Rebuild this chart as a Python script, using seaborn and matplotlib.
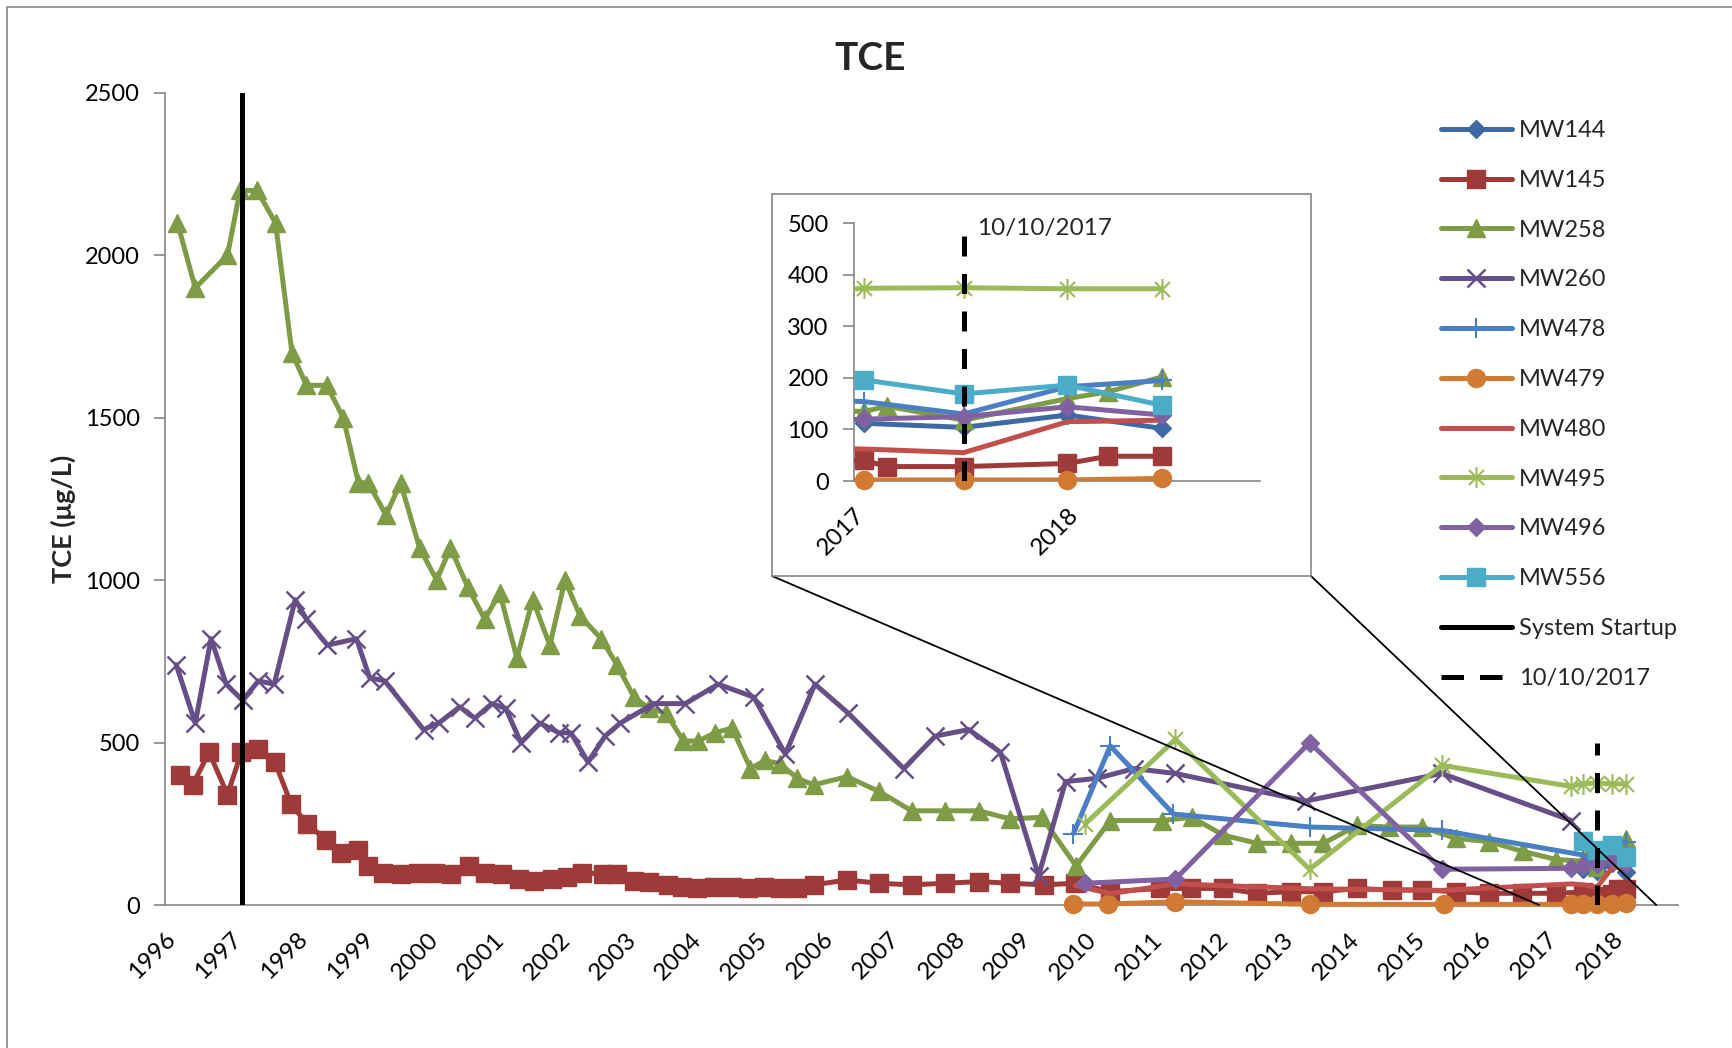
import matplotlib
matplotlib.use('Agg')
import matplotlib.pyplot as plt
import seaborn as sns
from matplotlib.path import Path
from matplotlib.patches import Rectangle, ConnectionPatch
from matplotlib.lines import Line2D

# ---- data (x in decimal years, TCE in ug/L) ----
MW144_YEARS = [2017.55, 2017.77, 2018.00, 2018.21]
MW144_TCE = [112, 104, 128, 102]

MW145_YEARS = [1996.23, 1996.42, 1996.67, 1996.95, 1997.16, 1997.41, 1997.67, 1997.92, 1998.16, 1998.45,
               1998.67, 1998.94, 1999.08, 1999.32, 1999.58, 1999.84, 2000.10, 2000.35, 2000.62, 2000.86,
               2001.12, 2001.38, 2001.61, 2001.88, 2002.11, 2002.34, 2002.66, 2002.87, 2003.13, 2003.36,
               2003.65, 2003.86, 2004.09, 2004.34, 2004.62, 2004.87, 2005.10, 2005.35, 2005.61, 2005.86,
               2006.37, 2006.85, 2007.35, 2007.86, 2008.37, 2008.85, 2009.36, 2009.84, 2010.37, 2011.13,
               2011.59, 2012.09, 2012.60, 2013.11, 2013.61, 2014.12, 2014.65, 2015.11, 2015.62, 2016.12,
               2016.63, 2017.15, 2017.55, 2017.60, 2017.77, 2018.00, 2018.09, 2018.21]
MW145_TCE = [400, 370, 470, 340, 470, 480, 440, 310, 250, 200,
             160, 170, 120, 100, 95, 100, 100, 95, 120, 100,
             95, 80, 75, 80, 85, 100, 95, 95, 75, 70,
             62, 56, 52, 56, 56, 52, 56, 52, 52, 62,
             77, 67, 62, 67, 72, 67, 62, 67, 41, 51,
             51, 51, 36, 41, 41, 51, 46, 46, 41, 36,
             36, 36, 40, 28, 28, 34, 48, 48]

MW258_YEARS = [1996.19, 1996.46, 1996.95, 1997.14, 1997.40, 1997.68, 1997.93, 1998.15, 1998.46, 1998.71,
               1998.94, 1999.09, 1999.36, 1999.58, 1999.87, 2000.13, 2000.34, 2000.60, 2000.86, 2001.09,
               2001.35, 2001.59, 2001.85, 2002.08, 2002.31, 2002.63, 2002.87, 2003.13, 2003.36, 2003.62,
               2003.88, 2004.11, 2004.36, 2004.62, 2004.90, 2005.12, 2005.35, 2005.61, 2005.86, 2006.37,
               2006.85, 2007.35, 2007.86, 2008.37, 2008.85, 2009.33, 2009.85, 2010.37, 2011.16, 2011.61,
               2012.09, 2012.60, 2013.11, 2013.61, 2014.12, 2014.60, 2015.11, 2015.62, 2016.13, 2016.64,
               2017.15, 2017.55, 2017.60, 2017.77, 2018.00, 2018.09, 2018.21]
MW258_TCE = [2100, 1900, 2000, 2200, 2200, 2100, 1700, 1600, 1600, 1500,
             1300, 1300, 1200, 1300, 1100, 1000, 1100, 980, 880, 960,
             760, 940, 800, 1000, 890, 820, 740, 640, 605, 590,
             505, 505, 530, 545, 420, 445, 435, 390, 370, 395,
             350, 290, 290, 290, 265, 270, 120, 260, 260, 270,
             215, 190, 190, 190, 245, 240, 240, 205, 195, 165,
             140, 135, 145, 118, 160, 173, 202]

MW260_YEARS = [1996.17, 1996.46, 1996.70, 1996.93, 1997.18, 1997.42, 1997.66, 1997.98, 1998.15, 1998.47,
               1998.91, 1999.11, 1999.34, 1999.93, 2000.16, 2000.48, 2000.71, 2000.97, 2001.18, 2001.41,
               2001.70, 2001.99, 2002.17, 2002.43, 2002.69, 2002.92, 2003.43, 2003.91, 2004.41, 2004.95,
               2005.43, 2005.88, 2006.39, 2007.23, 2007.71, 2008.22, 2008.70, 2009.28, 2009.69, 2010.17,
               2010.73, 2011.36, 2013.34, 2015.41, 2017.38]
MW260_TCE = [740, 560, 820, 680, 630, 690, 680, 940, 880, 800,
             820, 700, 690, 540, 560, 610, 575, 620, 605, 500,
             560, 530, 530, 440, 520, 560, 620, 620, 680, 640,
             465, 680, 590, 420, 520, 540, 470, 90, 380, 390,
             420, 405, 320, 405, 260]

MW478_YEARS = [2009.81, 2010.37, 2011.33, 2013.41, 2015.41, 2017.55, 2017.77, 2018.00, 2018.21]
MW478_TCE = [220, 490, 280, 240, 230, 154, 130, 183, 195]

MW479_YEARS = [2009.81, 2010.34, 2011.36, 2013.41, 2015.44, 2017.38, 2017.55, 2017.77, 2018.00, 2018.21]
MW479_TCE = [3, 3, 10, 2, 2, 2, 2, 2, 2, 5]

MW480_YEARS = [2009.84, 2010.37, 2011.36, 2013.41, 2015.41, 2017.38, 2017.55, 2017.77, 2018.00, 2018.21]
MW480_TCE = [60, 35, 65, 50, 45, 65, 62, 55, 115, 118]

MW495_YEARS = [2009.99, 2011.36, 2013.40, 2015.41, 2017.38, 2017.55, 2017.77, 2018.00, 2018.21]
MW495_TCE = [250, 510, 110, 430, 365, 374, 375, 373, 373]

MW496_YEARS = [2009.99, 2011.36, 2013.40, 2015.41, 2017.38, 2017.55, 2017.77, 2018.00, 2018.21]
MW496_TCE = [67, 80, 500, 110, 113, 120, 125, 144, 128]

MW556_YEARS = [2017.55, 2017.77, 2018.00, 2018.21]
MW556_TCE = [196, 169, 186, 147]

STARTUP_YEAR = 1997.17
EVENT_YEAR = 2017.77          # 10/10/2017
EVENT_TOP = 500
ZOOM_SPAN = (2016.89, 2018.67)
INSET_XLIM = (2017.526, 2018.427)

YEAR_TICKS = list(range(1996, 2019))
Y_TICKS = [0, 500, 1000, 1500, 2000, 2500]
INSET_Y_TICKS = [0, 100, 200, 300, 400, 500]
INSET_TICKS = [2017.526, 2018.0]
INSET_TICK_LABELS = ['2017', '2018']

# excel style star marker (vertical bar + x)
STAR = Path([(0, -1), (0, 1), (-0.72, -0.72), (0.72, 0.72), (-0.72, 0.72), (0.72, -0.72)],
            [Path.MOVETO, Path.LINETO] * 3)

# name, x, y, color, marker, markersize, edge width
SERIES = [
    ('MW144', MW144_YEARS, MW144_TCE, '#3E6AA3', 'D', 9.5, 1),
    ('MW145', MW145_YEARS, MW145_TCE, '#9E3B3A', 's', 12.5, 1),
    ('MW258', MW258_YEARS, MW258_TCE, '#7E9B45', '^', 13.5, 1),
    ('MW260', MW260_YEARS, MW260_TCE, '#664F87', 'x', 13, 1.8),
    ('MW478', MW478_YEARS, MW478_TCE, '#4A80C3', '+', 15, 1.5),
    ('MW479', MW479_YEARS, MW479_TCE, '#D07A33', 'o', 13, 1),
    ('MW480', MW480_YEARS, MW480_TCE, '#C34F4C', None, 0, 1),
    ('MW495', MW495_YEARS, MW495_TCE, '#9BBB59', STAR, 15, 1.5),
    ('MW496', MW496_YEARS, MW496_TCE, '#8062A3', 'D', 9.5, 1),
    ('MW556', MW556_YEARS, MW556_TCE, '#4AACC6', 's', 12.5, 1),
]

LW = 3.6
GRAY = '#868686'
DASHES = (4, 3.5)

sns.set_theme(style='white')
plt.rcParams['font.family'] = ['Lato', 'DejaVu Sans']

W, H = 1732, 1048
fig = plt.figure(figsize=(W / 100, H / 100), dpi=100)
fig.patch.set_facecolor('white')


def draw_series(target, xlim=None):
    for i, (name, xs, ys, color, marker, ms, mew) in enumerate(SERIES):
        kws = dict(color=color, linewidth=LW, errorbar=None, legend=False, zorder=3 + i,
                   solid_joinstyle='round', solid_capstyle='round')
        if xlim is None:
            # everything lies inside the axes, so let markers hang over the axis line
            kws['clip_on'] = False
            if marker is not None:
                kws.update(marker=marker, markersize=ms, markeredgecolor=color, markeredgewidth=mew)
            sns.lineplot(x=xs, y=ys, ax=target, **kws)
        else:
            # lines clipped to the zoom window, markers drawn unclipped on top
            sns.lineplot(x=xs, y=ys, ax=target, **kws)
            if marker is not None:
                inside = [(x, y) for x, y in zip(xs, ys) if xlim[0] <= x <= xlim[1]]
                target.plot([p[0] for p in inside], [p[1] for p in inside], linestyle='none',
                            marker=marker, markersize=ms, color=color, markeredgecolor=color,
                            markeredgewidth=mew, clip_on=False, zorder=3 + i)


def style_axis(target, labelsize=17):
    for side in ['top', 'right']:
        target.spines[side].set_visible(False)
    for side in ['left', 'bottom']:
        target.spines[side].set_color(GRAY)
        target.spines[side].set_linewidth(1.2)
    target.tick_params(axis='y', length=8, width=1.2, color=GRAY, labelsize=labelsize, pad=10,
                       labelcolor='black', left=True)
    target.tick_params(axis='x', length=0, labelsize=labelsize + 0.5, pad=17, labelcolor='black',
                       bottom=True)
    for lbl in target.get_xticklabels():
        lbl.set_rotation(45)
        lbl.set_ha('right')
        lbl.set_va('top')
        lbl.set_rotation_mode('anchor')
    target.grid(False)
    target.set_xlabel('')
    target.set_ylabel('')


# ---- main chart ----
ax = fig.add_axes([165 / W, 1 - 905 / H, (1678 - 165) / W, (905 - 93) / H])
ax.set_facecolor('white')
draw_series(ax)
ax.axvline(STARTUP_YEAR, color='black', lw=LW, zorder=20)
ax.vlines(EVENT_YEAR, 0, EVENT_TOP, color='black', lw=LW, linestyles=(0, DASHES), zorder=21)
ax.set_xlim(1996, 2019)
ax.set_ylim(0, 2500)
ax.set_yticks(Y_TICKS)
ax.set_xticks(YEAR_TICKS)
ax.set_xticklabels([str(y) for y in YEAR_TICKS])
style_axis(ax)

# outer chart border (only left/top fall inside the picture)
fig.add_artist(Line2D([7 / W, 7 / W, 1], [0, 1 - 7 / H, 1 - 7 / H], transform=fig.transFigure,
                      color=GRAY, lw=1.2))

fig.text(870 / W, 1 - 59 / H, 'TCE', ha='center', va='center', fontsize=28, fontweight='bold')
fig.text(63 / W, 1 - 519 / H, 'TCE (μg/L)', rotation=90, ha='center', va='center',
         fontsize=19.5, fontweight='bold')

# ---- zoom box ----
box_l, box_r, box_t, box_b = 772, 1311, 194, 576
fig.add_artist(Rectangle((box_l / W, 1 - box_b / H), (box_r - box_l) / W, (box_b - box_t) / H,
                         transform=fig.transFigure, facecolor='white', edgecolor=GRAY, lw=1.2, zorder=2))
for corner_x, data_x in [(box_l, ZOOM_SPAN[0]), (box_r, ZOOM_SPAN[1])]:
    cp = ConnectionPatch(xyA=(corner_x / W, 1 - box_b / H), coordsA=fig.transFigure,
                         xyB=(data_x, 0), coordsB=ax.transData, color='black', lw=1.3, zorder=1.5)
    fig.add_artist(cp)

axi = fig.add_axes([853.6 / W, 1 - 481 / H, (1260 - 853.6) / W, (481 - 223.3) / H], zorder=3)
axi.set_facecolor('none')
draw_series(axi, INSET_XLIM)
axi.vlines(EVENT_YEAR, 0, EVENT_TOP, color='black', lw=LW, linestyles=(0, DASHES), zorder=21)
axi.annotate('10/10/2017', xy=(EVENT_YEAR, 490), xytext=(10, 0), textcoords='offset points',
             va='center', ha='left', fontsize=17.5)
axi.set_xlim(*INSET_XLIM)
axi.set_ylim(0, 500)
axi.set_yticks(INSET_Y_TICKS)
axi.set_xticks(INSET_TICKS)
axi.set_xticklabels(INSET_TICK_LABELS)
style_axis(axi)

# ---- legend ----
handles = []
labels = []
for name, xs, ys, color, marker, ms, mew in SERIES:
    handles.append(Line2D([], [], color=color, lw=LW, marker=marker, markersize=ms if marker else 0,
                          markeredgecolor=color, markeredgewidth=mew, solid_capstyle='round'))
    labels.append(name)
handles.append(Line2D([], [], color='black', lw=LW, solid_capstyle='round'))
labels.append('System Startup')
handles.append(Line2D([], [], color='black', lw=LW, linestyle=(0, (4.5, 3.2))))
labels.append('10/10/2017')
fig.legend(handles, labels, loc='upper left', bbox_to_anchor=(1441 / W, 1 - 120 / H),
           frameon=False, fontsize=17, handlelength=3.0, handletextpad=0.3,
           labelspacing=1.22, borderaxespad=0, borderpad=0)

fig.savefig('out.png', dpi=100, facecolor='white')
